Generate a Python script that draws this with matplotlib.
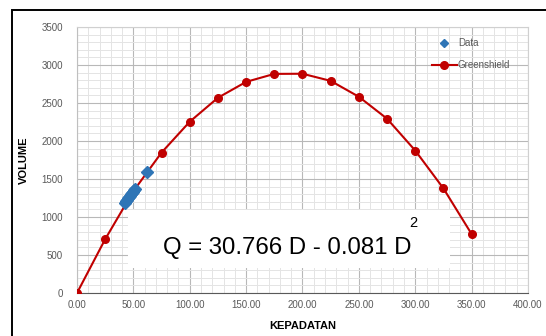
import matplotlib.pyplot as plt
from matplotlib.patches import Rectangle
from matplotlib.lines import Line2D
from matplotlib.ticker import MultipleLocator, FormatStrFormatter

plt.rcParams["font.family"] = ["Liberation Sans", "DejaVu Sans"]

# Greenshield model points
gs_density = [0, 25, 50, 75, 100, 125, 150, 175, 200, 225, 250, 275, 300, 325, 350]
gs_volume = [0, 708, 1340, 1848, 2254, 2569, 2778, 2883, 2885, 2791, 2582, 2293, 1874, 1376, 775]

# observed data
obs_density = [42.5, 43.5, 44.3, 45.2, 46.0, 46.8, 47.6, 48.5, 49.4, 50.3, 51.2, 62.2]
obs_volume = [1185, 1205, 1225, 1245, 1262, 1280, 1298, 1315, 1332, 1350, 1368, 1595]

equation = "Q = 30.766 D - 0.081 D"

RED = "#c00000"
BLUE = "#2e75b6"
W, H = 546, 336

fig = plt.figure(figsize=(W / 100, H / 100), dpi=100)
ax = fig.add_axes([77 / W, 1 - 293 / H, 451 / W, 266 / H])

ax.plot(gs_density, gs_volume, color=RED, lw=1.5, marker="o", ms=5.5, zorder=3)
ax.plot(obs_density, obs_volume, ls="none", marker="D", ms=6.5, color=BLUE, zorder=4)

ax.set_xlim(0, 400)
ax.set_ylim(0, 3500)
ax.xaxis.set_major_locator(MultipleLocator(50))
ax.xaxis.set_minor_locator(MultipleLocator(10))
ax.yaxis.set_major_locator(MultipleLocator(500))
ax.yaxis.set_minor_locator(MultipleLocator(100))
ax.xaxis.set_major_formatter(FormatStrFormatter("%.2f"))
ax.grid(which="major", color="#b8b8b8", lw=0.8, zorder=0)
ax.grid(which="minor", color="#e4e4e4", lw=0.7, zorder=0)
ax.set_axisbelow(True)
ax.tick_params(which="both", length=0, labelsize=7, labelcolor="#595959", pad=5)
ax.tick_params(axis="y", pad=10)

for s in ["top", "right"]:
    ax.spines[s].set_color("#d0d0d0")
ax.spines["left"].set_color("#bfbfbf")
ax.spines["bottom"].set_color("#595959")

ax.set_xlabel("KEPADATAN", fontsize=8, fontweight="bold", labelpad=8)
ax.set_ylabel("VOLUME", fontsize=8, fontweight="bold", labelpad=9)

handles = [
    Line2D([], [], ls="none", marker="D", ms=4, color=BLUE),
    Line2D([], [], color=RED, lw=1.5, marker="o", ms=5.5),
]
ax.legend(handles, ["Data", "Greenshield"], loc="upper right", frameon=False,
          fontsize=7, labelcolor="#595959", handlelength=2.6, handletextpad=0.1,
          labelspacing=1.2, bbox_to_anchor=(0.98, 0.99))

# equation box
fig.patches.append(Rectangle((128 / W, 1 - 268 / H), 322 / W, 58 / H,
                             transform=fig.transFigure, facecolor="white",
                             edgecolor="none", zorder=5))
fig.text(163 / W, 1 - 254 / H, equation, fontsize=17.3, ha="left", va="baseline",
         zorder=6)
fig.text(409 / W, 1 - 227 / H, "2", fontsize=10.5, ha="left", va="baseline", zorder=6)

# chart frame (cropped)
fig.patches.append(Rectangle((12 / W, -0.1), 1.2, 1 - 10 / H + 0.1,
                             transform=fig.transFigure, facecolor="none",
                             edgecolor="black", lw=1.4, zorder=7))

fig.savefig("out.png", dpi=100)
